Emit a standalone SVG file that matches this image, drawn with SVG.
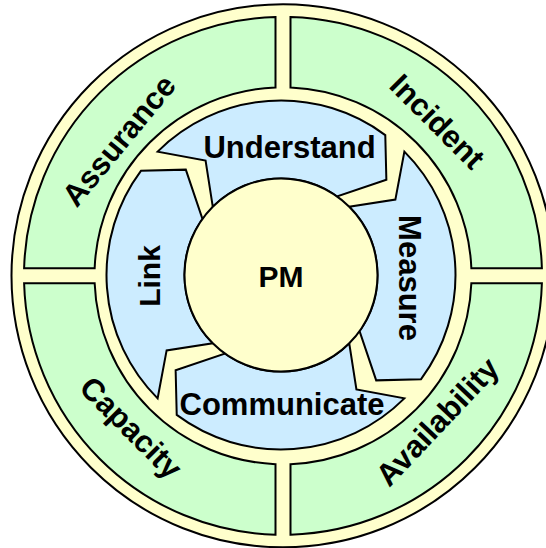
<svg xmlns="http://www.w3.org/2000/svg" width="546" height="548" viewBox="0 0 546 548">
<style>
.ring{fill:#FFFFCC;stroke:#000;stroke-width:2}
.seg{fill:#CCFFCC;stroke:#000;stroke-width:2;stroke-linejoin:miter}
.arr{fill:#CCECFF;stroke:#000;stroke-width:2;stroke-linejoin:miter}
.hub{fill:#FFFFCC;stroke:#000;stroke-width:2}
text{font-family:"Liberation Sans",Arial,sans-serif;font-weight:bold;fill:#000;text-anchor:middle}
.o{font-size:31px}
.i{font-size:31px}
</style>
<defs>
<path id="sector" d="M -258.89,-7.5 A 259 259 0 0 1 -7.5,-258.89 L -7.5,-188.35 A 188.5 188.5 0 0 0 -188.35,-7.5 Z"/>
<path id="arrow" d="M -123.39,-123.39 A 174.5 174.5 0 0 1 104.28,-139.91 L 105.36,-95.2 L 56.04,-78.56 A 96.5 96.5 0 0 0 -68.24,-68.24 L -75.42,-114.37 Z"/>
</defs>
<g id="outer-ring">
<circle class="ring" cx="283" cy="275.8" r="271.5"/>
</g>
<g id="assurance">
<use href="#sector" class="seg" transform="translate(283,275.8)"/>
<text class="o" transform="translate(283,275.8) rotate(-50.5)" x="0" y="-202">Assurance</text>
</g>
<g id="incident">
<use href="#sector" class="seg" transform="translate(283,275.8) rotate(90)"/>
<text class="o" transform="translate(283,275.8) rotate(45)" x="0" y="-207.5">Incident</text>
</g>
<g id="availability">
<use href="#sector" class="seg" transform="translate(283,275.8) rotate(180)"/>
<text class="o" transform="translate(283,275.8) rotate(-46.6)" x="0" y="223">Availability</text>
</g>
<g id="capacity">
<use href="#sector" class="seg" transform="translate(283,275.8) rotate(270)"/>
<text class="o" transform="translate(283,275.8) rotate(45)" x="0" y="225.5">Capacity</text>
</g>
<g id="connectors"></g>
<g id="understand">
<use href="#arrow" class="arr" transform="translate(281,275)"/>
<text class="i" x="289.5" y="158.3">Understand</text>
</g>
<g id="measure">
<use href="#arrow" class="arr" transform="translate(281,275) rotate(90)"/>
<text class="i" transform="translate(399,278) rotate(90)" x="0" y="0">Measure</text>
</g>
<g id="communicate">
<use href="#arrow" class="arr" transform="translate(281,275) rotate(180)"/>
<text class="i" x="282" y="414.7">Communicate</text>
</g>
<g id="link">
<use href="#arrow" class="arr" transform="translate(281,275) rotate(270)"/>
<text class="i" transform="translate(159.5,276) rotate(-90)" x="0" y="0" style="font-size:30px">Link</text>
</g>
<g id="pm">
<circle class="hub" cx="281" cy="275" r="96.5"/>
<text x="281" y="286.5" style="font-size:30px">PM</text>
</g>
</svg>
